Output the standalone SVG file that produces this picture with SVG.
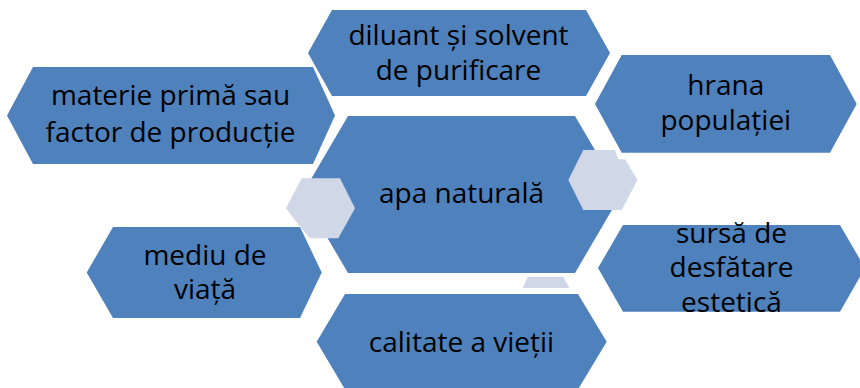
<svg xmlns="http://www.w3.org/2000/svg" width="860" height="388" viewBox="0 0 860 388">
<style>
.hex{fill:#4F81BD}
.link{fill:#D0D8E8}
text{font-family:"Open Sans","Liberation Sans",sans-serif;font-size:28px;fill:#000;text-anchor:middle}
</style>
<rect width="860" height="388" fill="#fff"/>
<g id="node-center">
<polygon class="hex" points="302,194.5 348,116 575,116 621,194.5 575,273 348,273"/>
<text x="461.5" y="203">apa naturală</text>
</g>
<g id="connectors">
<polygon class="link" points="301.7,178.3 340,178.3 355,208.3 338.3,238.3 310,238.3 298,224 286,208.3"/>
<polygon class="link" points="583.3,150 615,150 618.3,159.3 625,159.3 637.5,180 621.7,210 583.3,210 568.3,180"/>
<polygon class="link" points="528,276.7 563.3,276.7 569.3,288 522.7,288"/>
</g>
<g id="node-diluant">
<polygon class="hex" points="308,53 332,10 586,10 610,53 586,96 332,96"/>
<text x="458.5" y="45">diluant și solvent</text>
<text x="458.5" y="80">de purificare</text>
</g>
<g id="node-materie">
<polygon class="hex" points="7,115.5 33,67 313,67 335,115.5 313,164 33,164"/>
<text x="170.5" y="105">materie primă sau</text>
<text x="170.5" y="141.5">factor de producție</text>
</g>
<g id="node-hrana">
<polygon class="hex" points="595,104 621.7,55 830,55 856.7,104 830,152.7 621.7,152.7"/>
<text x="725.8" y="95">hrana</text>
<text x="725.8" y="130">populației</text>
</g>
<g id="node-sursa">
<polygon class="hex" points="598,268 623,225 840,225 865,268 840,311.7 623,311.7"/>
<text x="731.5" y="243">sursă de</text>
<text x="731.5" y="277">desfătare</text>
<text x="731.5" y="311.5">estetică</text>
</g>
<g id="node-mediu">
<polygon class="hex" points="86.7,272.5 113,227 300,227 321.7,272.5 300,318 113,318"/>
<text x="205" y="265">mediu de</text>
<text x="205" y="298.5">viață</text>
</g>
<g id="node-calitate">
<polygon class="hex" points="316.7,341.7 345,294 578,294 606.7,341.7 578,389.4 345,389.4"/>
<text x="461.5" y="351.5">calitate a vieții</text>
</g>
</svg>
